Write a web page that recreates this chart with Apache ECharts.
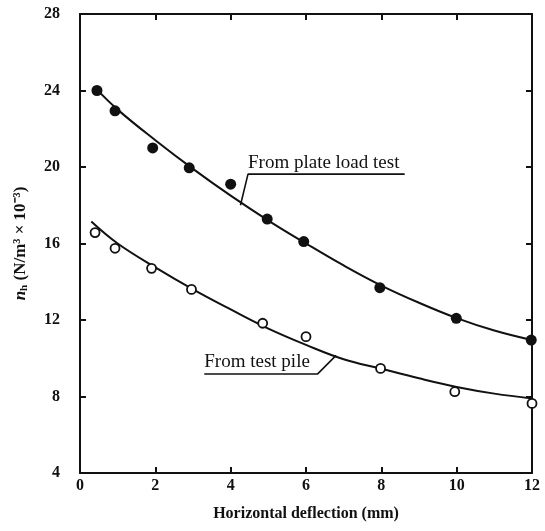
<!DOCTYPE html>
<html><head><meta charset="utf-8">
<script src="https://cdn.jsdelivr.net/npm/echarts@6/dist/echarts.min.js"></script>
<style>html,body{margin:0;padding:0;background:#fff}#c{width:545px;height:531px}</style>
</head><body><div id="c"></div>
<script>
// Measured points
var plateX = [0.45, 0.93, 1.93, 2.9, 4.0, 4.97, 5.94, 7.96, 9.99, 11.98];
var plateY = [24.0, 22.94, 21.0, 19.96, 19.1, 17.28, 16.1, 13.69, 12.09, 10.95];
var pileX = [0.4, 0.93, 1.9, 2.96, 4.85, 6.0, 7.98, 9.95, 12.0];
var pileY = [16.57, 15.75, 14.7, 13.6, 11.83, 11.13, 9.47, 8.25, 7.64];
// Fitted curves
var plateCurveX = [0.4, 1, 2, 3, 4, 5, 6, 7, 8, 9, 10, 11, 12];
var plateCurveY = [24.15, 23.0, 21.4, 19.9, 18.5, 17.2, 16.0, 14.85, 13.8, 12.9, 12.1, 11.45, 10.95];
var pileCurveX = [0.3, 1, 2, 3, 4, 5, 6, 7, 8, 9, 10, 11, 12];
var pileCurveY = [17.15, 16.0, 14.75, 13.6, 12.55, 11.55, 10.7, 9.95, 9.45, 8.95, 8.5, 8.15, 7.9];
// Tick values
var xTicks = [0, 2, 4, 6, 8, 10, 12];
var yTicks = [4, 8, 12, 16, 20, 24, 28];
// Annotations (data coords)
var plateLabel = 'From plate load test';
var plateLeaderX = [4.26, 4.46, 8.62];
var plateLeaderY = [18.0, 19.63, 19.63];
var pileLabel = 'From test pile';
var pileLeaderX = [3.3, 6.31, 6.8];
var pileLeaderY = [9.18, 9.18, 10.15];

function zip(a, b) { return a.map(function (v, i) { return [v, b[i]]; }); }

var serif = 'Liberation Serif';
var chart = echarts.init(document.getElementById('c'), null, {renderer: 'canvas'});
var axisLine = {show: true, onZero: false, lineStyle: {color: '#111', width: 2}};
var axisTick = {show: true, inside: true, length: 6, lineStyle: {color: '#111', width: 2}};

var plateLeader = zip(plateLeaderX, plateLeaderY);
var pileLeader = zip(pileLeaderX, pileLeaderY);
var noLabel = {show: false};

chart.setOption({
  animation: false,
  backgroundColor: '#fff',
  grid: {left: 80, right: 13, top: 14, bottom: 58},
  xAxis: [{
    type: 'value', min: xTicks[0], max: xTicks[xTicks.length - 1], interval: 2,
    axisLine: axisLine, axisTick: axisTick, splitLine: {show: false},
    axisLabel: {color: '#111', fontFamily: serif, fontWeight: 'bold', fontSize: 16, margin: 5},
    name: 'Horizontal deflection (mm)', nameLocation: 'middle', nameGap: 33,
    nameTextStyle: {color: '#111', fontFamily: serif, fontWeight: 'bold', fontSize: 16}
  }, {
    type: 'value', position: 'top', min: 0, max: 12, interval: 2,
    axisLine: axisLine, axisTick: axisTick, splitLine: {show: false}, axisLabel: {show: false}
  }],
  yAxis: [{
    type: 'value', min: yTicks[0], max: yTicks[yTicks.length - 1], interval: 4,
    axisLine: axisLine, axisTick: axisTick, splitLine: {show: false},
    axisLabel: {color: '#111', fontFamily: serif, fontWeight: 'bold', fontSize: 16, margin: 20},
    name: '{n|n}{h|h} (N/m³ × 10⁻³)', nameLocation: 'middle', nameGap: 50, nameRotate: 90,
    nameTextStyle: {color: '#111', fontFamily: serif, fontWeight: 'bold', fontSize: 17,
      rich: {n: {fontFamily: serif, fontStyle: 'italic', fontWeight: 'bold', fontSize: 17, color: '#111'},
             h: {fontFamily: serif, fontWeight: 'bold', fontSize: 11, color: '#111', padding: [8, 0, 0, 0]}}}
  }, {
    type: 'value', position: 'right', min: 4, max: 28, interval: 4,
    axisLine: axisLine, axisTick: axisTick, splitLine: {show: false}, axisLabel: {show: false}
  }],
  series: [
    {type: 'line', data: zip(plateCurveX, plateCurveY), smooth: 0.4, showSymbol: false,
     lineStyle: {color: '#111', width: 2}, z: 2},
    {type: 'line', data: zip(pileCurveX, pileCurveY), smooth: 0.4, showSymbol: false,
     lineStyle: {color: '#111', width: 2}, z: 2},
    {type: 'scatter', data: zip(plateX, plateY), symbol: 'circle', symbolSize: 11,
     itemStyle: {color: '#111', opacity: 1}, z: 3},
    {type: 'scatter', data: zip(pileX, pileY), symbol: 'circle', symbolSize: 9,
     itemStyle: {color: '#fff', borderColor: '#111', borderWidth: 1.8, opacity: 1}, z: 3},
    {type: 'line', data: plateLeader.map(function (p, i) {
        return i === 1 ? {value: p, label: {show: true, position: 'top', align: 'left', distance: 2,
          formatter: plateLabel, fontFamily: serif, fontSize: 19, color: '#111'}} : {value: p, label: noLabel}; }),
     showSymbol: true, symbol: 'circle', symbolSize: 0, lineStyle: {color: '#111', width: 1.6}, z: 4},
    {type: 'line', data: pileLeader.map(function (p, i) {
        return i === 0 ? {value: p, label: {show: true, position: 'top', align: 'left', distance: 2,
          formatter: pileLabel, fontFamily: serif, fontSize: 19, color: '#111'}} : {value: p, label: noLabel}; }),
     showSymbol: true, symbol: 'circle', symbolSize: 0, lineStyle: {color: '#111', width: 1.6}, z: 4}
  ]
});
</script></body></html>
